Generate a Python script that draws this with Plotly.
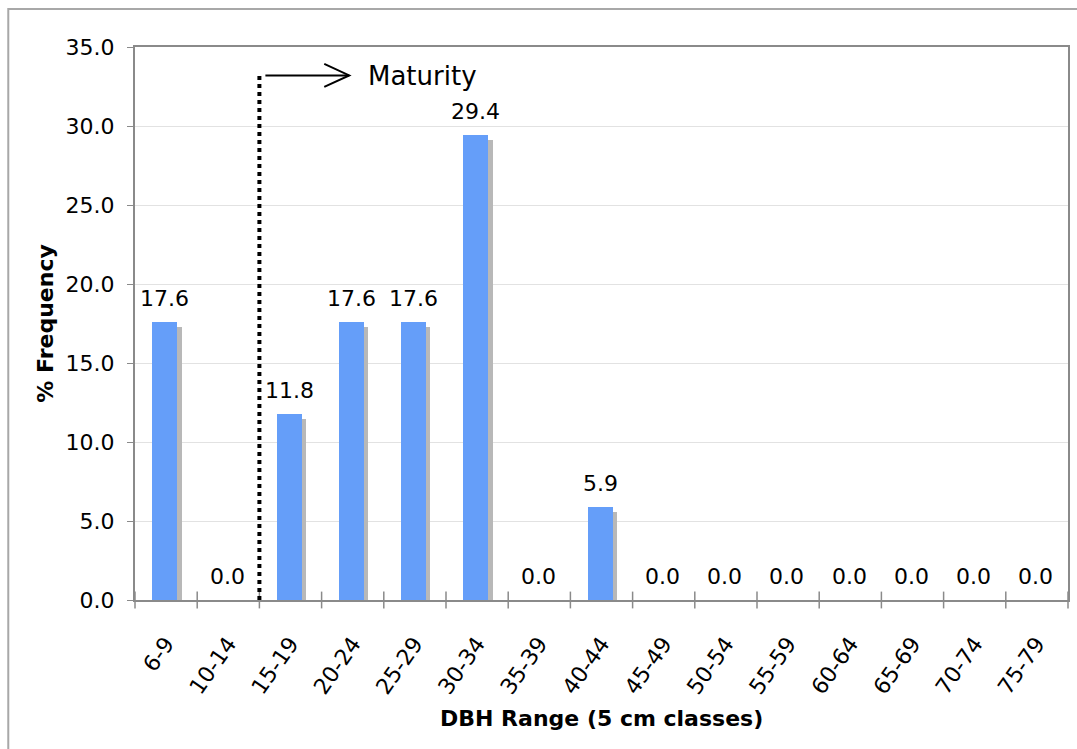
import plotly.graph_objects as go

# DBH size classes and their share of stems (%)
classes = ["6-9", "10-14", "15-19", "20-24", "25-29", "30-34", "35-39",
           "40-44", "45-49", "50-54", "55-59", "60-64", "65-69", "70-74", "75-79"]
freq = [17.6, 0.0, 11.8, 17.6, 17.6, 29.4, 0.0, 5.9, 0.0, 0.0, 0.0, 0.0, 0.0, 0.0, 0.0]
y_ticks = [0, 5, 10, 15, 20, 25, 30, 35]

FONT = "DejaVu Sans, Verdana, sans-serif"
BLUE = "#659ef9"
SHADOW = "#b8b8b8"
FS = 22

x_idx = list(range(len(classes)))
W, H = 1077, 749
L, R, T, B = 135, 7, 47, 149
plot_h = H - T - B
ymax = 35.0
px_per_unit = plot_h / ymax
shadow_drop = 5 / px_per_unit  # drop shadow sits a few pixels lower

fig = go.Figure()
# drop shadow behind each bar
fig.add_trace(go.Bar(
    x=x_idx, y=[max(v - shadow_drop, 0) for v in freq],
    width=0.40, offset=-0.15, marker=dict(color=SHADOW, line=dict(width=0)),
    hoverinfo="skip", showlegend=False,
))
fig.add_trace(go.Bar(
    x=x_idx, y=freq,
    width=0.40, offset=-0.22, marker=dict(color=BLUE, line=dict(width=0)),
    showlegend=False,
))

annotations = []
for i, v in enumerate(freq):
    annotations.append(dict(
        x=i - 0.02, y=v, xref="x", yref="y", text=f"{v:.1f}", showarrow=False,
        yanchor="bottom", yshift=9, font=dict(family=FONT, size=FS, color="black"),
    ))

# maturity threshold between the 10-14 and 15-19 classes
thr_x = 1.5
thr_top = 33.2
cat_px = (W - L - R) / len(classes)
arrow_start = thr_x + 6 / cat_px
arrow_tip = thr_x + 90 / cat_px
arm_dx = 25 / cat_px
arm_dy = 11.5 / px_per_unit

shapes = [
    dict(type="line", xref="x", yref="y", x0=thr_x, x1=thr_x, y0=0, y1=thr_top,
         line=dict(color="black", width=4, dash="dot")),
    dict(type="line", xref="x", yref="y", x0=arrow_start, x1=arrow_tip, y0=thr_top, y1=thr_top,
         line=dict(color="black", width=2)),
    dict(type="path", xref="x", yref="y",
         path=f"M {arrow_tip - arm_dx},{thr_top + arm_dy} L {arrow_tip},{thr_top} L {arrow_tip - arm_dx},{thr_top - arm_dy}",
         line=dict(color="black", width=2)),
    # outer chart frame
    dict(type="rect", xref="paper", yref="paper",
         x0=(8 - L) / (W - L - R), x1=1.05, y0=-0.4, y1=1 + (T - 9) / plot_h,
         line=dict(color="#a8a8a8", width=2), layer="below"),
]

annotations.append(dict(
    x=thr_x + (367 - 259.8) / cat_px, y=thr_top, xref="x", yref="y", text="Maturity",
    showarrow=False, xanchor="left", yanchor="middle", yshift=-1,
    font=dict(family=FONT, size=26, color="black"),
))
annotations.append(dict(
    x=0.5, y=(600 - 718) / plot_h, xref="paper", yref="paper", text="<b>DBH Range (5 cm classes)</b>",
    showarrow=False, xanchor="center", yanchor="middle",
    font=dict(family=FONT, size=FS, color="black"),
))
annotations.append(dict(
    x=(45 - L) / (W - L - R), y=0.5, xref="paper", yref="paper", text="<b>% Frequency</b>",
    showarrow=False, xanchor="center", yanchor="middle", textangle=-90,
    font=dict(family=FONT, size=FS, color="black"),
))

fig.update_layout(
    width=W, height=H,
    margin=dict(l=L, r=R, t=T, b=B),
    paper_bgcolor="white", plot_bgcolor="white",
    barmode="overlay", bargap=0,
    shapes=shapes, annotations=annotations,
    font=dict(family=FONT, size=FS, color="black"),
)
fig.update_xaxes(
    type="linear", range=[-0.5, len(classes) - 0.5],
    tickmode="array", tickvals=x_idx, ticktext=classes, tickangle=-55,
    ticks="", showgrid=False,
    showline=True, linecolor="#8a8a8a", linewidth=2, mirror=True,
    tickfont=dict(family=FONT, size=FS, color="black"),
    ticklabelstandoff=20,
)
# boundary tick marks between classes
fig.add_trace(go.Scatter(
    x=[i - 0.5 for i in range(len(classes) + 1)], y=[0] * (len(classes) + 1),
    mode="markers", marker=dict(symbol="line-ns", size=12, line=dict(color="#8a8a8a", width=1.5)),
    hoverinfo="skip", showlegend=False, cliponaxis=False,
))
fig.update_yaxes(
    range=[0, ymax], tickvals=y_ticks, tickformat=".1f",
    ticks="outside", ticklen=6, tickcolor="#8a8a8a",
    showgrid=True, gridcolor="#e2e2e2", gridwidth=1,
    showline=True, linecolor="#8a8a8a", linewidth=2, mirror=True,
    tickfont=dict(family=FONT, size=FS, color="black"),
    ticklabelstandoff=8, zeroline=False,
)

fig.write_html("out.html")
